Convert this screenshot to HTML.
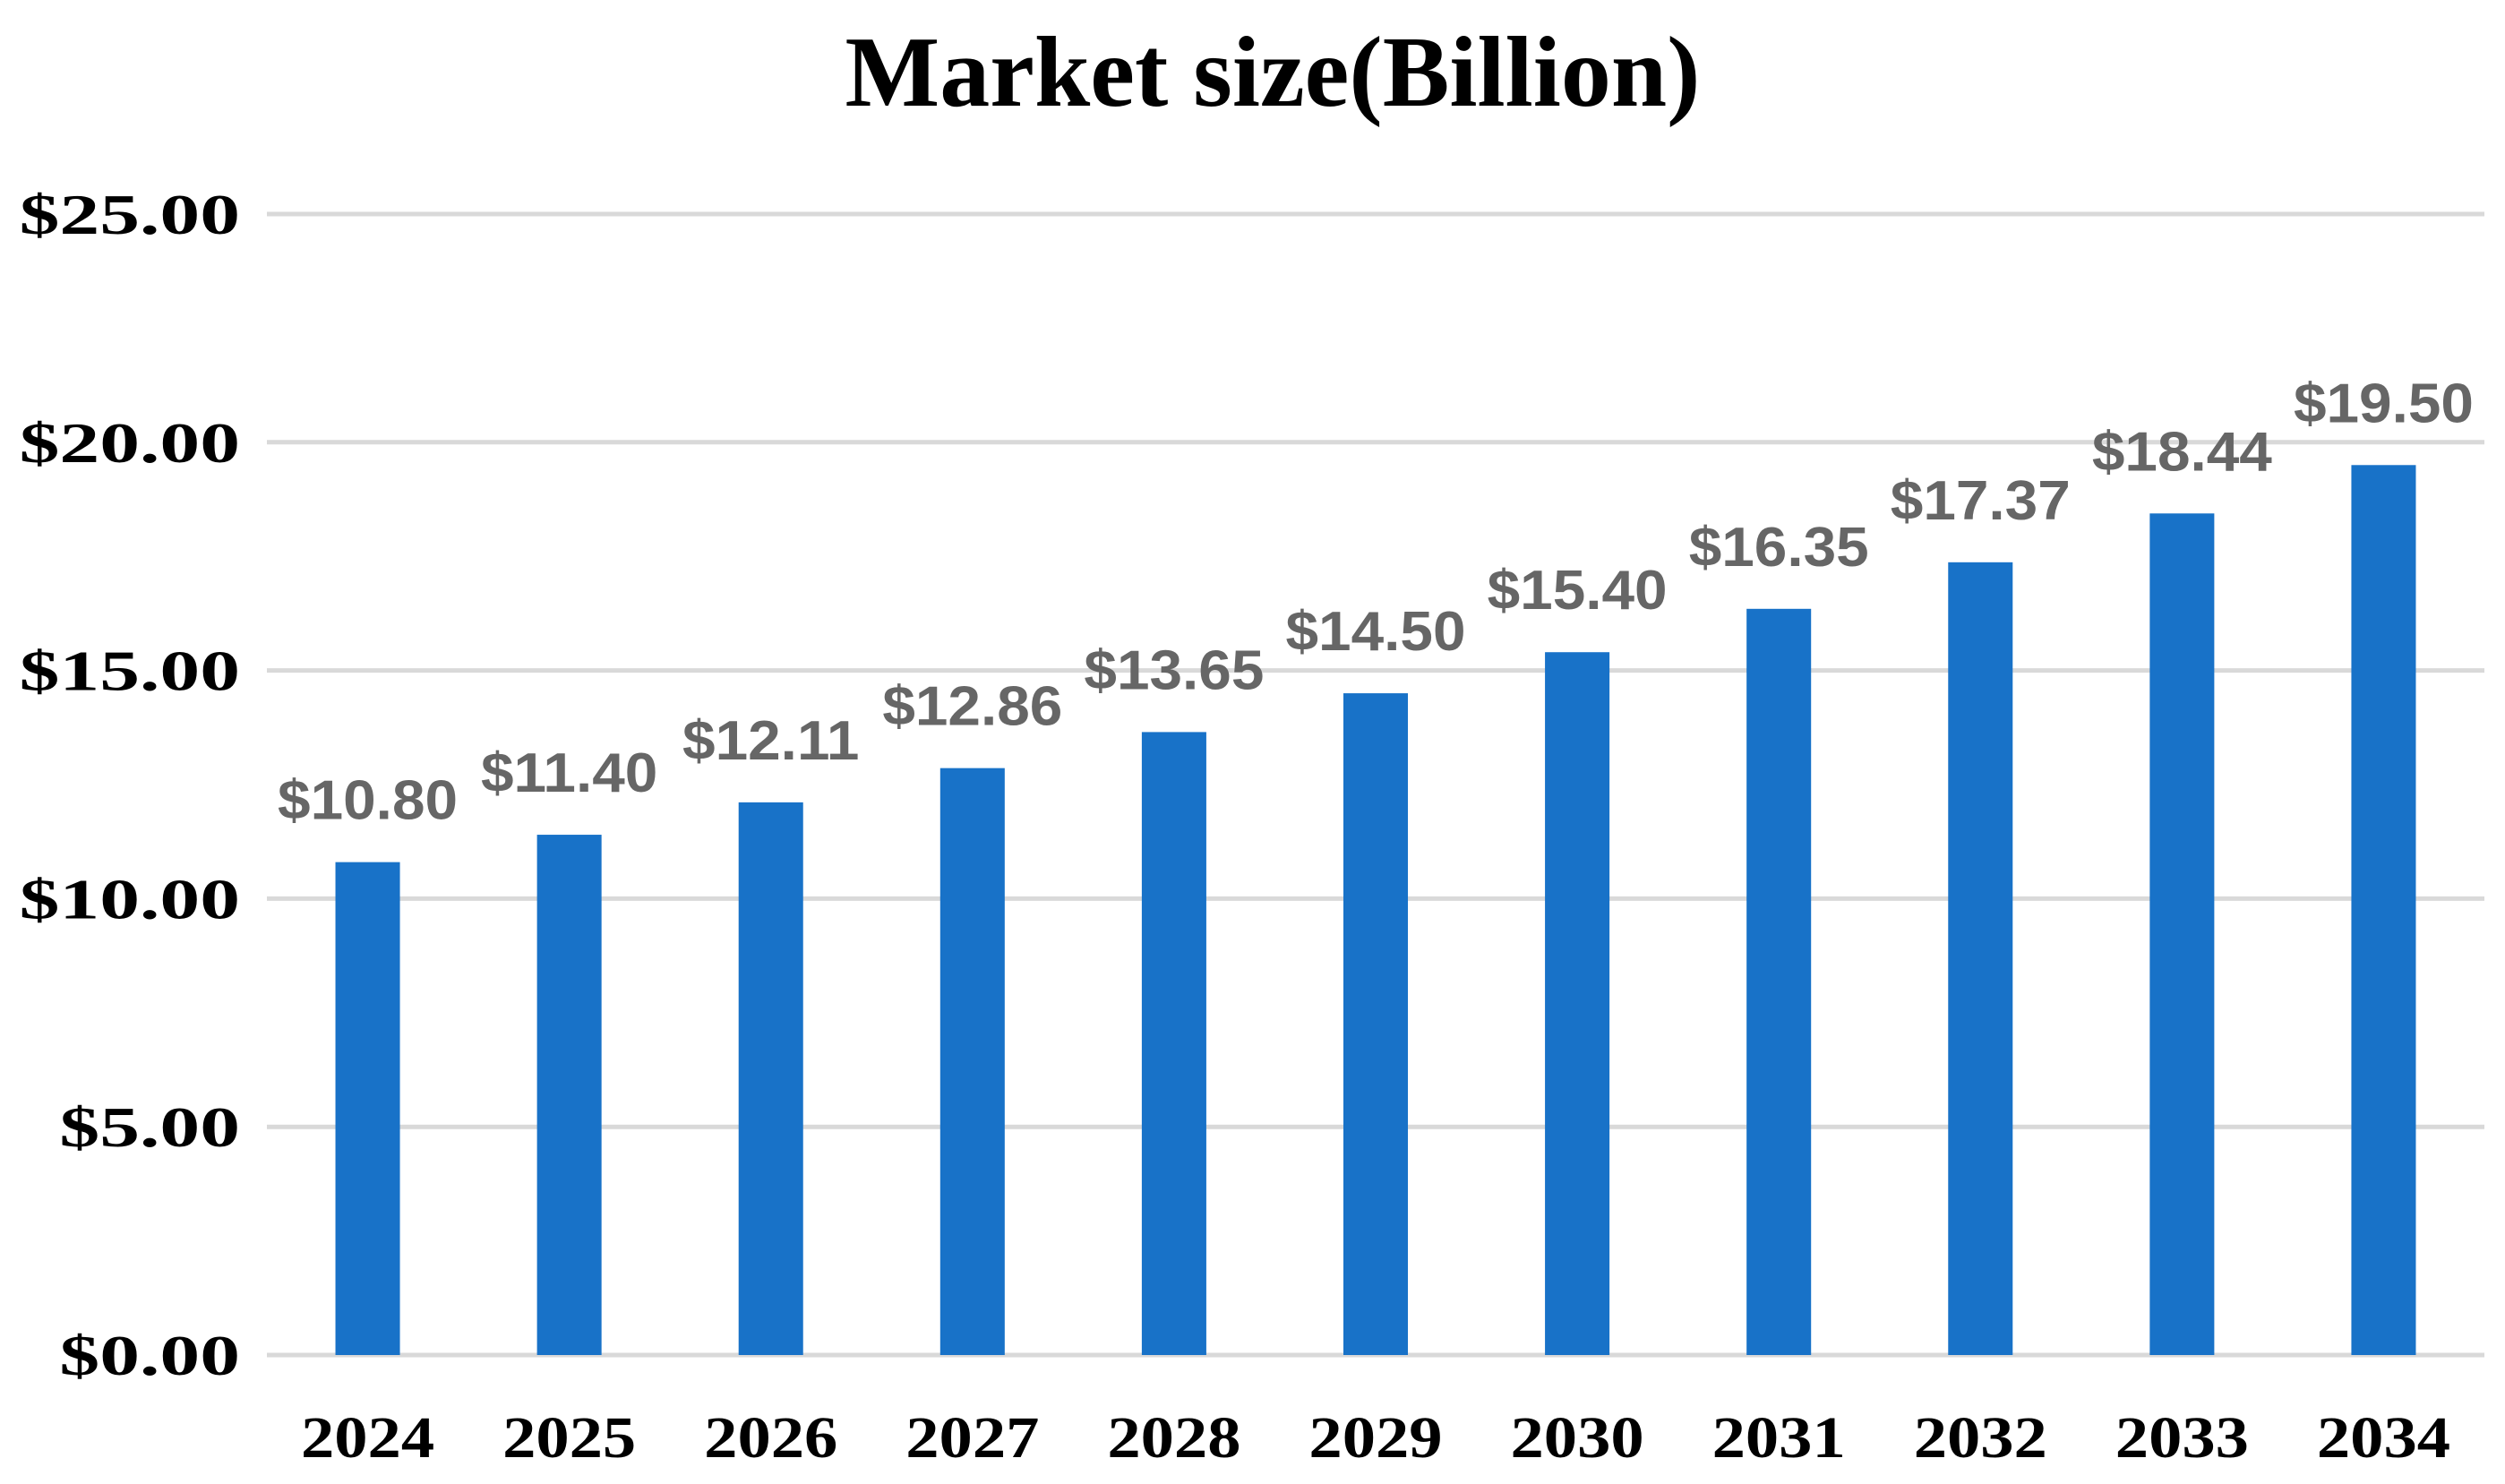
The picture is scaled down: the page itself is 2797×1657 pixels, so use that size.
<!DOCTYPE html>
<html><head><meta charset="utf-8"><style>
html,body{margin:0;padding:0;background:#fff;width:2797px;height:1657px;overflow:hidden}
svg{display:block}
</style></head><body>
<svg id="chart" width="2797" height="1657" viewBox="0 0 2797 1657">
<text x="1421" y="118" text-anchor="middle" font-family="Liberation Serif, serif" font-weight="bold" font-size="112" fill="#000">Market size(Billion)</text>
<g id="grid"></g><g id="bars"></g><g id="labels"></g>
</svg>
<script>
const categories = ["2024","2025","2026","2027","2028","2029","2030","2031","2032","2033","2034"];
const values = [10.80,11.40,12.11,12.86,13.65,14.50,15.40,16.35,17.37,18.44,19.50];
const valueLabels = ["$10.80","$11.40","$12.11","$12.86","$13.65","$14.50","$15.40","$16.35","$17.37","$18.44","$19.50"];
const yTicks = [0,5,10,15,20,25];
const yTickLabels = ["$0.00","$5.00","$10.00","$15.00","$20.00","$25.00"];

const NS="http://www.w3.org/2000/svg";
const plotLeft=298,plotRight=2774,plotTop=239,plotBottom=1513,yMax=25;
const step=(plotRight-plotLeft)/categories.length, barW=step*0.32;
const yPos=v=>plotBottom-(v/yMax)*(plotBottom-plotTop);
const xc=i=>plotLeft+step*(i+0.5);
const grid=document.getElementById('grid'),bars=document.getElementById('bars'),labels=document.getElementById('labels');
function mk(tag,attrs,parent){const e=document.createElementNS(NS,tag);for(const k in attrs)e.setAttribute(k,attrs[k]);parent.appendChild(e);return e;}
yTicks.forEach((t,i)=>{
  const l=mk('line',{x1:plotLeft,x2:plotRight,y1:yPos(t),y2:yPos(t),stroke:'#d9d9d9','stroke-width':5},grid);
  
  
  const tx=mk('text',{x:0,y:0,transform:'translate(268,'+(yPos(t)+22)+') scale(1.4,1)','text-anchor':'end','font-family':'Liberation Serif, serif','font-weight':'bold','font-size':64,fill:'#000'},labels);
  tx.textContent=yTickLabels[i];
  
  
});
categories.forEach((c,i)=>{
  const r=mk('rect',{x:xc(i)-barW/2,y:yPos(values[i]),width:barW,height:plotBottom-yPos(values[i]),fill:'#1872c8'},bars);
  
  
  const v=mk('text',{x:0,y:0,transform:'translate('+xc(i)+','+(yPos(values[i])-48)+') scale(1.06,1)','text-anchor':'middle','font-family':'Liberation Sans, sans-serif','font-weight':'bold','font-size':62,fill:'#666'},labels);
  v.textContent=valueLabels[i];
  
  
  const xl=mk('text',{x:0,y:0,transform:'translate('+xc(i)+',1627) scale(1.13,1)','text-anchor':'middle','font-family':'Liberation Serif, serif','font-weight':'bold','font-size':66,fill:'#000'},labels);
  xl.textContent=c;
  
  
});
</script>
</body></html>
